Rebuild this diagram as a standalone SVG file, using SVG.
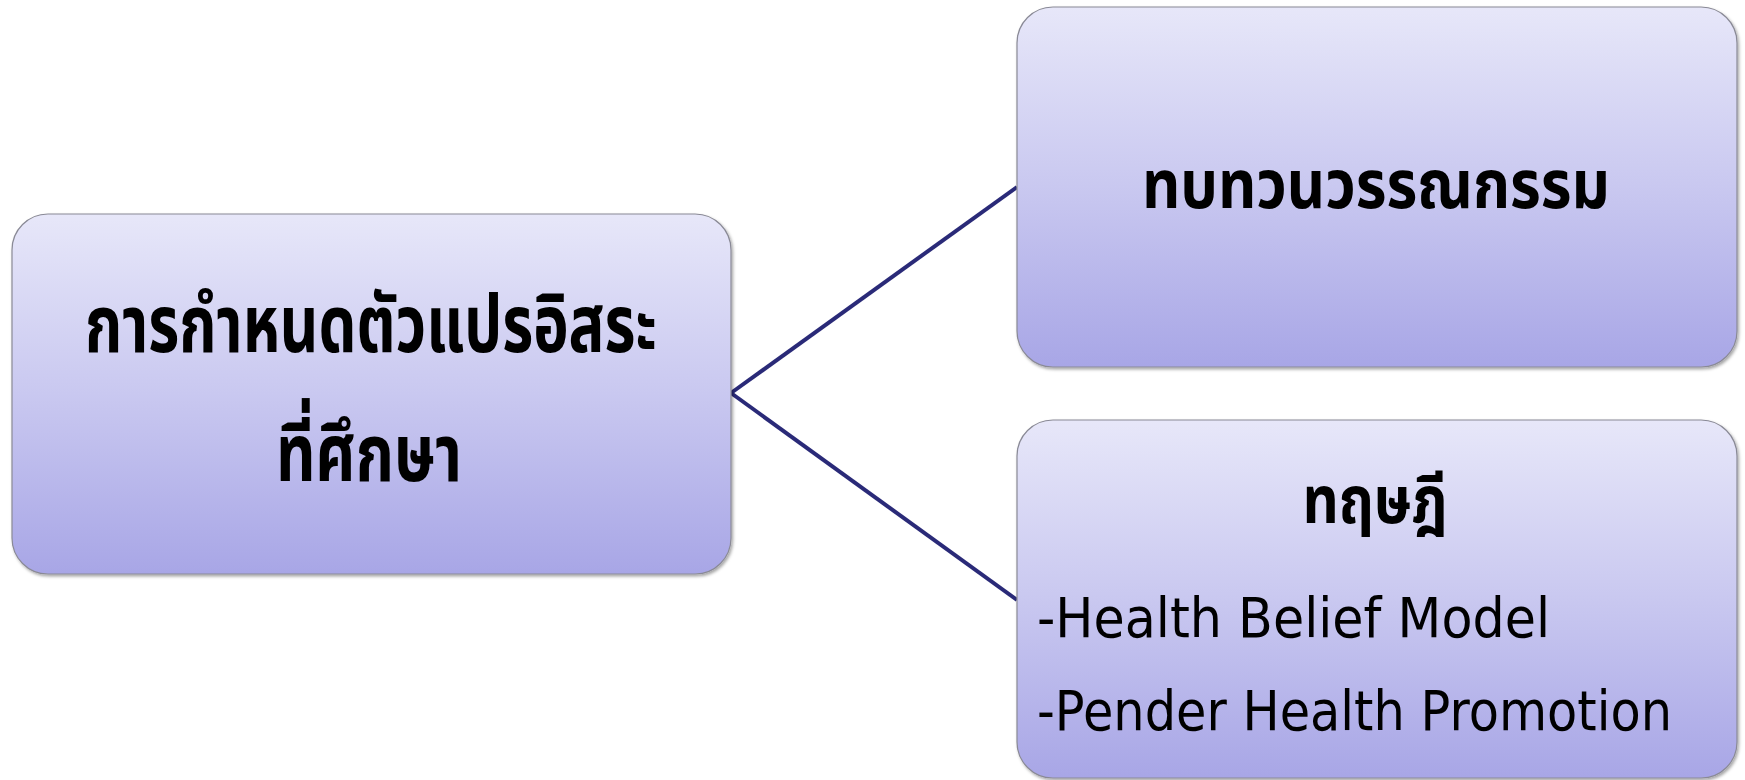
<svg xmlns="http://www.w3.org/2000/svg" width="1745" height="780" viewBox="0 0 1745 780">
  <defs>
    <linearGradient id="boxGrad" x1="0" y1="0" x2="0" y2="1">
      <stop offset="0" stop-color="#E7E7F9"/>
      <stop offset="0.5" stop-color="#C9C8F0"/>
      <stop offset="1" stop-color="#A8A6E6"/>
    </linearGradient>
    <filter id="shadow" x="-5%" y="-5%" width="110%" height="115%">
      <feDropShadow dx="1.5" dy="2" stdDeviation="1.5" flood-color="#000" flood-opacity="0.35"/>
    </filter>
  </defs>
  <style>
    .box { fill: url(#boxGrad); stroke: #8a8a96; stroke-width: 1.2; filter: url(#shadow); }
    .thai { font-family: "Noto Sans Thai", "Noto Sans", "DejaVu Sans", sans-serif; font-weight: bold; fill: #000; text-anchor: middle; }
    .eng { font-family: "Comic Sans MS", "DejaVu Sans", "Liberation Sans", sans-serif; fill: #000; }
    .conn { stroke: #2A2A78; stroke-width: 4; fill: none; }
  </style>
  <rect width="1745" height="780" fill="#FFFFFF"/>
  <g id="connectors">
    <line class="conn" x1="731" y1="393" x2="1017" y2="187"/>
    <line class="conn" x1="731" y1="393" x2="1017" y2="600"/>
  </g>
  <g id="node-main">
    <rect class="box" x="12" y="214" width="719" height="360" rx="36" ry="36"/>
    <text class="thai" x="371" y="352" font-size="80" textLength="572" lengthAdjust="spacingAndGlyphs">การกำหนดตัวแปรอิสระ</text>
    <text class="thai" x="369" y="481" font-size="80" textLength="186" lengthAdjust="spacingAndGlyphs">ที่ศึกษา</text>
  </g>
  <g id="node-review">
    <rect class="box" x="1017" y="7" width="720" height="360" rx="36" ry="36"/>
    <text class="thai" x="1376" y="208" font-size="68" textLength="468" lengthAdjust="spacingAndGlyphs">ทบทวนวรรณกรรม</text>
  </g>
  <g id="node-theory">
    <rect class="box" x="1017" y="420" width="720" height="358" rx="36" ry="36"/>
    <text class="thai" x="1375" y="523" font-size="66" textLength="145" lengthAdjust="spacingAndGlyphs">ทฤษฎี</text>
    <text class="eng" x="1037" y="637" font-size="55" textLength="513" lengthAdjust="spacingAndGlyphs">-Health Belief Model</text>
    <text class="eng" x="1037" y="730" font-size="55" textLength="635" lengthAdjust="spacingAndGlyphs">-Pender Health Promotion</text>
  </g>
</svg>
